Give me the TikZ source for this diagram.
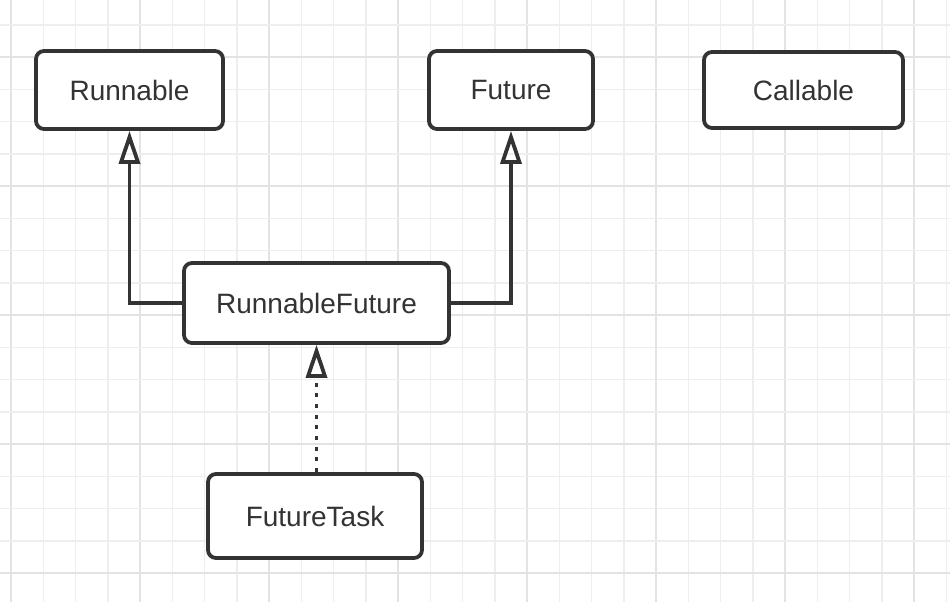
\documentclass[tikz,border=0pt]{standalone}
\usepackage{fontspec}
\setmainfont{Liberation Sans}
\usetikzlibrary{arrows.meta}
\definecolor{ink}{HTML}{333333}
\definecolor{gridminor}{HTML}{EEEEEE}
\definecolor{gridmajor}{HTML}{E3E3E3}
\tikzset{
  classbox/.style={draw=ink, line width=3.8pt, rounded corners=8pt, fill=white,
    text=ink, font=\fontsize{28}{32}\selectfont, inner sep=0pt},
  inherit/.style={draw=ink, line width=3.8pt, -{Triangle[open, length=33pt, width=21pt]}},
  realize/.style={inherit, dash pattern=on 4pt off 6.7pt},
}
\begin{document}
\begin{tikzpicture}[x=1pt, y=-1pt]
\useasboundingbox (0,0) rectangle (950,602);
\fill[white] (0,0) rectangle (950,602);
% grid
\foreach \k in {0,...,29} {
  \pgfmathsetmacro{\xx}{11+32.25*\k}
  \pgfmathtruncatemacro{\m}{mod(\k,4)}
  \ifnum\m=0
    \draw[gridmajor, line width=1.5pt] (\xx,0) -- (\xx,602);
  \else
    \draw[gridminor, line width=1.5pt] (\xx,0) -- (\xx,602);
  \fi
}
\foreach \k in {0,...,17} {
  \pgfmathsetmacro{\yy}{25+32.24*\k}
  \pgfmathtruncatemacro{\m}{mod(\k,4)}
  \ifnum\m=1
    \draw[gridmajor, line width=1.5pt] (0,\yy) -- (950,\yy);
  \else
    \draw[gridminor, line width=1.5pt] (0,\yy) -- (950,\yy);
  \fi
}
% nodes
\node[classbox, minimum width=187pt, minimum height=78pt] (run) at (129.5,90) {Runnable};
\node[classbox, minimum width=164pt, minimum height=78pt] (fut) at (511,90) {Future};
\node[classbox, minimum width=199pt, minimum height=76pt] (call) at (803.5,90) {Callable};
\node[classbox, minimum width=265pt, minimum height=80pt] (rf) at (316.5,303) {RunnableFuture};
\node[classbox, minimum width=214pt, minimum height=84pt] (ft) at (315,516) {FutureTask};
% connectors
\draw[inherit] (rf.west) -| (run.south);
\draw[inherit] (rf.east) -| (fut.south);
\draw[realize] (ft.north -| rf.south) -- (rf.south);
\end{tikzpicture}
\end{document}
